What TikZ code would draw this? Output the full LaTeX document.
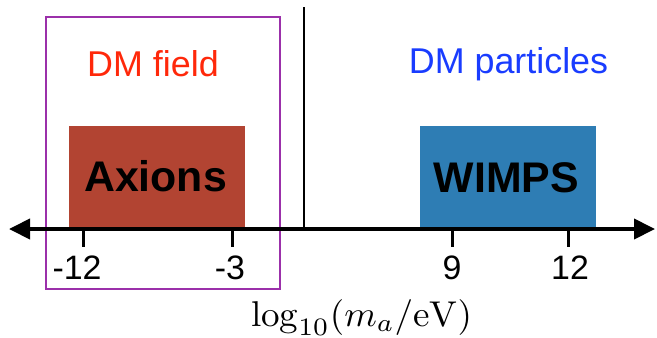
\documentclass[tikz,border=0pt]{standalone}
\usepackage{fontspec}
\newfontfamily\helv{Liberation Sans}
\usetikzlibrary{arrows.meta}
\definecolor{axred}{RGB}{178,68,50}
\definecolor{wimpblue}{RGB}{46,125,180}
\definecolor{fieldred}{RGB}{255,40,10}
\definecolor{partblue}{RGB}{25,60,255}
\definecolor{boxpurple}{RGB}{155,48,170}
\tikzset{
  mbox/.style={minimum width=176bp, minimum height=103bp, inner sep=0pt, draw=none},
  bigtxt/.style={font=\helv\fontsize{43}{48}\selectfont\bfseries, anchor=base, inner sep=0pt},
  cattxt/.style={font=\helv\fontsize{36}{40}\selectfont, anchor=base, inner sep=0pt},
  ticklbl/.style={font=\helv\fontsize{34}{38}\selectfont, anchor=base, inner sep=0pt},
  tickline/.style={line width=3bp},
}
\begin{document}
\begin{tikzpicture}[x=1bp,y=-1bp]
\useasboundingbox (0,0) rectangle (657,337);
% category box
\node[draw=boxpurple, line width=2bp, minimum width=234bp, minimum height=272bp, inner sep=0pt] (field) at (163,153) {};
% divider
\coordinate (vtop) at (304,7);
\coordinate (vbot) at (304,229);
\draw[line width=1.6bp] (vtop) -- (vbot);
% colored boxes
\node[mbox, fill=axred] (axbox) at (157,177.5) {};
\node[mbox, fill=wimpblue] (wbox) at (508,177.5) {};
\node[bigtxt] (axions) at (155.5,191) {Axions};
\node[bigtxt] (wimps) at (506.5,192) {WIMPS};
% category labels
\node[cattxt, text=fieldred] (dmfield) at (153,76) {DM field};
\node[cattxt, text=partblue] (dmpart) at (508.5,73) {DM particles};
% axis
\coordinate (L) at (9,229);
\coordinate (R) at (655,229);
\draw[line width=4bp, {Triangle[length=21bp,width=20bp]}-{Triangle[length=21bp,width=20bp]}] (L) -- (R);
% ticks
\foreach \n/\x in {a/83,b/232,c/452,d/568}{
  \coordinate (t\n top) at (\x,229);
  \coordinate (t\n bot) at (\x,247);
  \draw[tickline] (t\n top) -- (t\n bot);
}
\node[ticklbl] (l12) at (77,279) {-12};
\node[ticklbl] (l3) at (230,279) {-3};
\node[ticklbl] (l9) at (452,279) {9};
\node[ticklbl] (p12) at (570,279) {12};
% axis title
\node[anchor=base, inner sep=0pt] (title) at (361.5,326) {\scalebox{3.72}[3.6]{$\log_{10}(m_a/\mathrm{eV})$}};
\end{tikzpicture}
\end{document}
